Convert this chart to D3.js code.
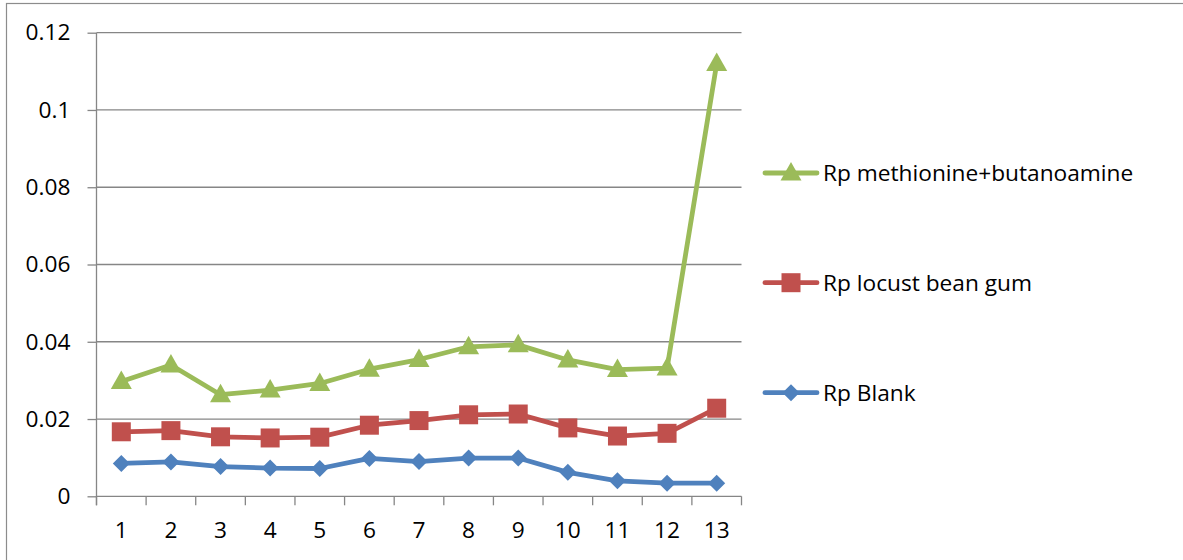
<!DOCTYPE html>
<html>
<head>
<meta charset="utf-8">
<script src="https://cdn.jsdelivr.net/npm/d3@7"></script>
<style>
  html, body { margin: 0; padding: 0; background: #fff; }
  svg { display: block; }
  text { font-family: "Open Sans", Lato, sans-serif; fill: #000; }
</style>
</head>
<body>
<svg id="chart" width="1183" height="560"></svg>
<script>
// Sample index along the x axis
const categories = ["1","2","3","4","5","6","7","8","9","10","11","12","13"];

// Polarisation resistance series
const rpBlank = [0.0085, 0.0089, 0.0077, 0.0073, 0.0072, 0.0098, 0.0090, 0.0099, 0.0099, 0.0062, 0.0040, 0.0034, 0.0034];
const rpLocustBeanGum = [0.0167, 0.0170, 0.0154, 0.0151, 0.0153, 0.0184, 0.0196, 0.0211, 0.0213, 0.0177, 0.0156, 0.0163, 0.0228];
const rpMethionineButanoamine = [0.0297, 0.0340, 0.0263, 0.0275, 0.0292, 0.0329, 0.0354, 0.0387, 0.0392, 0.0353, 0.0328, 0.0332, 0.1120];

const yTicks = [0, 0.02, 0.04, 0.06, 0.08, 0.1, 0.12];
const seriesNames = ["Rp Blank", "Rp locust bean gum", "Rp methionine+butanoamine"];

const series = [
  { name: seriesNames[0], values: rpBlank, color: "#4F81BD", marker: "diamond" },
  { name: seriesNames[1], values: rpLocustBeanGum, color: "#C0504D", marker: "square" },
  { name: seriesNames[2], values: rpMethionineButanoamine, color: "#9BBB59", marker: "triangle" }
];

const svg = d3.select("#chart");
const fontSize = 22.7;

// Outer chart frame
svg.append("rect")
  .attr("x", 6.5).attr("y", 3.5)
  .attr("width", 1190).attr("height", 600)
  .attr("fill", "none").attr("stroke", "#8c8c8c").attr("stroke-width", 1.2);

const plot = { left: 96.5, right: 741.5, top: 32.7, bottom: 496.3 };

const x = d3.scaleBand().domain(categories).range([plot.left, plot.right]);
const y = d3.scaleLinear().domain([0, 0.12]).range([plot.bottom, plot.top]);

const gridColor = "#868686";

// Value axis labels with small outer ticks on the left
const yAxis = d3.axisLeft(y).tickValues(yTicks).tickSize(9)
  .tickFormat(d => String(+d.toFixed(2)));
const gy = svg.append("g").attr("transform", `translate(${plot.left},0)`).call(yAxis);
gy.select(".domain").remove();
gy.selectAll(".tick line").attr("stroke", gridColor).attr("stroke-width", 1.3);
gy.selectAll(".tick text").attr("x", -26).attr("font-size", fontSize)
  .attr("font-family", "'Open Sans', sans-serif").attr("fill", "#000");

// Horizontal gridlines
svg.append("g").selectAll("line").data(yTicks.filter(d => d > 0)).join("line")
  .attr("x1", plot.left).attr("x2", plot.right)
  .attr("y1", d => y(d)).attr("y2", d => y(d))
  .attr("stroke", gridColor).attr("stroke-width", 1.3);

// Vertical value axis line
svg.append("line")
  .attr("x1", plot.left).attr("x2", plot.left)
  .attr("y1", plot.top).attr("y2", plot.bottom + 9)
  .attr("stroke", gridColor).attr("stroke-width", 1.3);

// Category axis with boundary ticks
const xBounds = categories.map(c => x(c)).concat([plot.right]);
svg.append("line")
  .attr("x1", plot.left).attr("x2", plot.right)
  .attr("y1", plot.bottom).attr("y2", plot.bottom)
  .attr("stroke", gridColor).attr("stroke-width", 1.3);
svg.append("g").selectAll("line").data(xBounds).join("line")
  .attr("x1", d => d).attr("x2", d => d)
  .attr("y1", plot.bottom).attr("y2", plot.bottom + 9)
  .attr("stroke", gridColor).attr("stroke-width", 1.3);
svg.append("g").selectAll("text").data(categories).join("text")
  .attr("x", d => x(d) + x.bandwidth() / 2)
  .attr("y", 538)
  .attr("text-anchor", "middle")
  .attr("font-size", fontSize)
  .text(d => d);

// Marker shapes
function markerPath(type) {
  if (type === "diamond") return "M0,-8.5L8.5,0L0,8.5L-8.5,0Z";
  if (type === "square") return "M-9.5,-9.5H9.5V9.5H-9.5Z";
  return "M0,-11L10.5,7.5L-10.5,7.5Z";
}

const line = d3.line()
  .x((d, i) => x(categories[i]) + x.bandwidth() / 2)
  .y(d => y(d));

series.forEach(s => {
  const g = svg.append("g");
  g.append("path")
    .attr("d", line(s.values))
    .attr("fill", "none")
    .attr("stroke", s.color)
    .attr("stroke-width", 4.8)
    .attr("stroke-linejoin", "round")
    .attr("stroke-linecap", "round");
  g.selectAll("path.m").data(s.values).join("path")
    .attr("class", "m")
    .attr("d", markerPath(s.marker))
    .attr("transform", (d, i) => `translate(${x(categories[i]) + x.bandwidth() / 2},${y(d)})`)
    .attr("fill", s.color);
});

// Legend, listed top to bottom in reverse series order
const legendY = [173, 282.7, 392.7];
const legendSeries = series.slice().reverse();
legendSeries.forEach((s, i) => {
  const g = svg.append("g").attr("transform", `translate(0,${legendY[i]})`);
  g.append("line")
    .attr("x1", 765).attr("x2", 817).attr("y1", 0).attr("y2", 0)
    .attr("stroke", s.color).attr("stroke-width", 4.8).attr("stroke-linecap", "round");
  g.append("path").attr("d", markerPath(s.marker))
    .attr("transform", "translate(791,0)").attr("fill", s.color);
  g.append("text")
    .attr("x", 823).attr("y", 8)
    .attr("font-size", fontSize)
    .text(s.name);
});
</script>
</body>
</html>
